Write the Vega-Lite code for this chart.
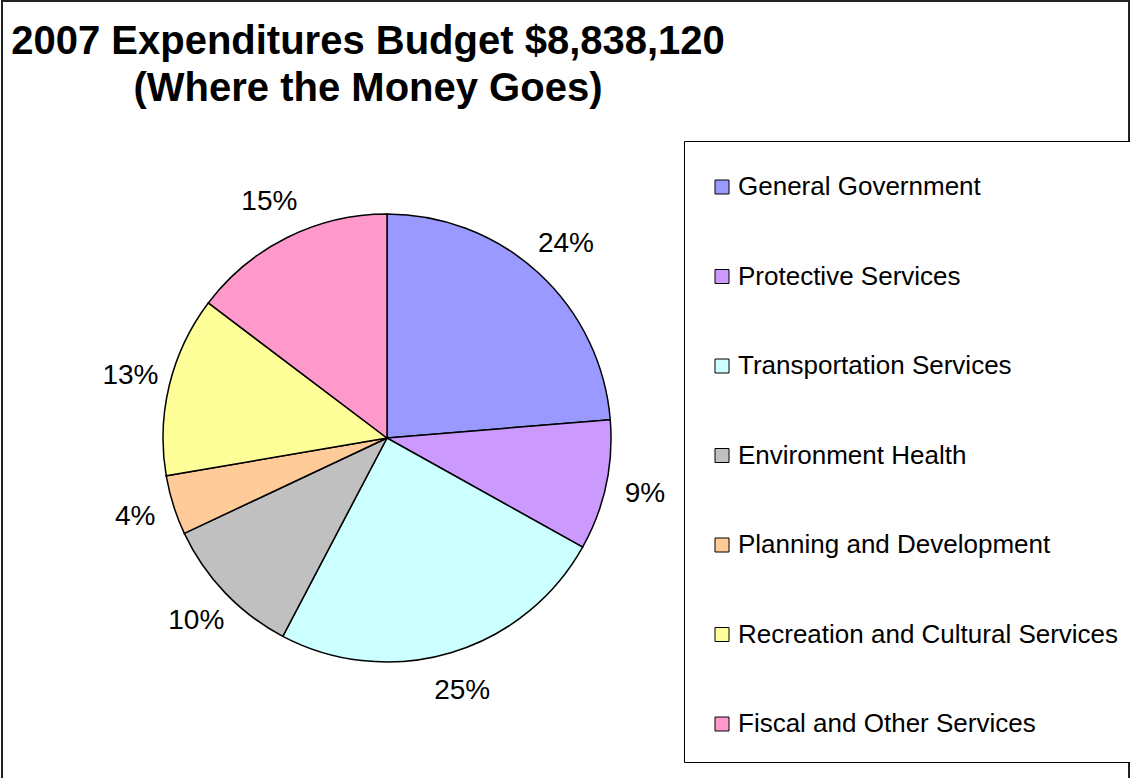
{
  "$schema": "https://vega.github.io/schema/vega-lite/v6.json",
  "autosize": "none",
  "width": 1127,
  "height": 790,
  "padding": {"left": 2, "top": 1, "right": 1, "bottom": 0},
  "background": "white",
  "config": {
    "font": "Liberation Sans",
    "view": {"stroke": null}
  },
  "title": {
    "text": ["2007 Expenditures Budget $8,838,120", "(Where the Money Goes)"],
    "fontSize": 40,
    "fontWeight": "bold",
    "color": "black",
    "lineHeight": 47,
    "anchor": "start",
    "align": "center",
    "frame": "group",
    "baseline": "top",
    "dx": 366,
    "dy": 113
  },
  "data": {
    "values": [
      {"category": "General Government", "share": 0.237, "rank": 1},
      {"category": "Protective Services", "share": 0.094, "rank": 2},
      {"category": "Transportation Services", "share": 0.246, "rank": 3},
      {"category": "Environment Health", "share": 0.103, "rank": 4},
      {"category": "Planning and Development", "share": 0.043, "rank": 5},
      {"category": "Recreation and Cultural Services", "share": 0.130, "rank": 6},
      {"category": "Fiscal and Other Services", "share": 0.147, "rank": 7}
    ]
  },
  "layer": [
    {
      "transform": [{"aggregate": [{"op": "count", "as": "n"}]}],
      "mark": {"type": "rect", "fill": null, "stroke": "#222222", "strokeWidth": 2},
      "encoding": {}
    },
    {
      "mark": {"type": "arc", "x": 385, "y": 437, "outerRadius": 224, "stroke": "black", "strokeWidth": 1.5},
      "encoding": {
        "theta": {"field": "share", "type": "quantitative", "stack": true},
        "order": {"field": "rank", "type": "quantitative"},
        "color": {
          "field": "category",
          "type": "nominal",
          "scale": {
            "domain": ["General Government", "Protective Services", "Transportation Services", "Environment Health", "Planning and Development", "Recreation and Cultural Services", "Fiscal and Other Services"],
            "range": ["#9999FF", "#CC99FF", "#CCFFFF", "#C0C0C0", "#FFCC99", "#FFFF99", "#FF99CC"]
          },
          "legend": {
            "title": " ",
            "titleOrient": "top",
            "titleFontSize": 4,
            "titlePadding": 4,
            "orient": "none",
            "legendX": 682,
            "legendY": 140,
            "direction": "vertical",
            "padding": 25,
            "strokeColor": "black",
            "fillColor": "white",
            "symbolType": "square",
            "symbolSize": 196,
            "symbolStrokeColor": "black",
            "symbolStrokeWidth": 1,
            "symbolOpacity": 1,
            "labelFontSize": 26,
            "labelColor": "black",
            "labelOffset": 3,
            "labelLimit": 500,
            "rowPadding": 63.5
          }
        }
      }
    },
    {
      "mark": {"type": "text", "x": 385, "y": 437, "radius": 264, "fontSize": 28, "align": "center", "baseline": "middle", "color": "black"},
      "encoding": {
        "theta": {"field": "share", "type": "quantitative", "stack": true},
        "order": {"field": "rank", "type": "quantitative"},
        "text": {"field": "share", "type": "quantitative", "format": ".0%"}
      }
    }
  ]
}
